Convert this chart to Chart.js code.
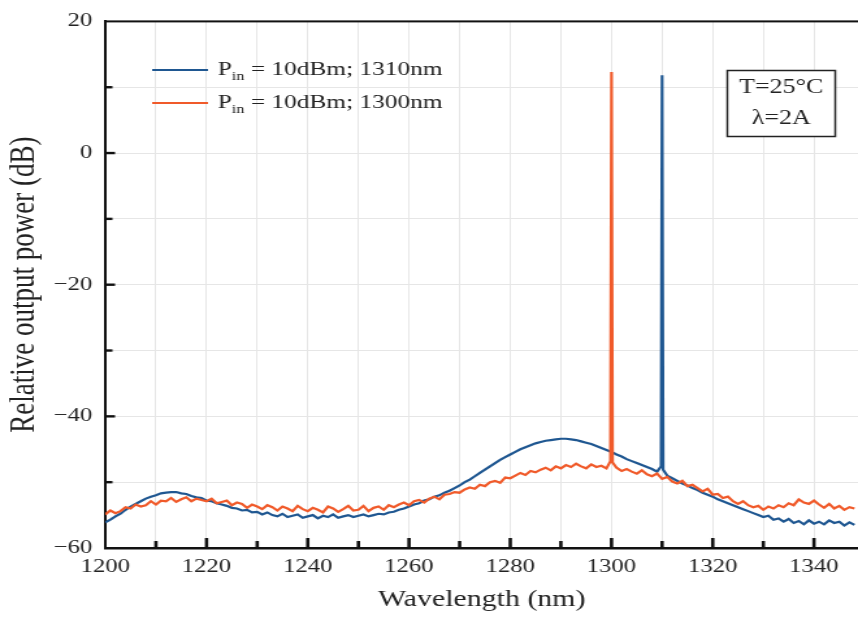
<!DOCTYPE html>
<html>
<head>
<meta charset="utf-8">
<title>Relative output power spectrum</title>
<script src="https://cdn.jsdelivr.net/npm/chart.js@4.4.0/dist/chart.umd.min.js"></script>
<style>
  html, body { margin: 0; padding: 0; background: #fff; overflow: hidden; }
  /* the source figure is stretched sideways by about 1.3x */
  #wrap { width: 660px; height: 619px; transform: scaleX(1.3); transform-origin: 0 0; }
</style>
</head>
<body>
<div id="wrap"><canvas id="spectrumChart" width="660" height="619"></canvas></div>
<script>
// wavelength grid (nm) at 1 nm steps
const wavelengths = [
  1200,1201,1202,1203,1204,1205,1206,1207,1208,1209,
  1210,1211,1212,1213,1214,1215,1216,1217,1218,1219,
  1220,1221,1222,1223,1224,1225,1226,1227,1228,1229,
  1230,1231,1232,1233,1234,1235,1236,1237,1238,1239,
  1240,1241,1242,1243,1244,1245,1246,1247,1248,1249,
  1250,1251,1252,1253,1254,1255,1256,1257,1258,1259,
  1260,1261,1262,1263,1264,1265,1266,1267,1268,1269,
  1270,1271,1272,1273,1274,1275,1276,1277,1278,1279,
  1280,1281,1282,1283,1284,1285,1286,1287,1288,1289,
  1290,1291,1292,1293,1294,1295,1296,1297,1298,1299,
  1300,1301,1302,1303,1304,1305,1306,1307,1308,1309,
  1310,1311,1312,1313,1314,1315,1316,1317,1318,1319,
  1320,1321,1322,1323,1324,1325,1326,1327,1328,1329,
  1330,1331,1332,1333,1334,1335,1336,1337,1338,1339,
  1340,1341,1342,1343,1344,1345,1346,1347,1348
];

// Pin = 10dBm, 1310 nm signal (dB)
const power1310 = [
  -56.1,-55.7,-55.2,-54.8,-54.2,-53.7,-53.3,-52.9,-52.5,-52.2,
  -52.0,-51.7,-51.6,-51.5,-51.5,-51.7,-51.8,-52.1,-52.3,-52.4,
  -52.8,-52.9,-53.2,-53.4,-53.6,-53.9,-54.0,-54.3,-54.2,-54.6,
  -54.5,-54.9,-54.6,-55.0,-55.2,-54.8,-55.3,-55.1,-54.9,-55.4,
  -55.2,-55.0,-55.5,-55.1,-55.3,-54.9,-55.4,-55.2,-55.0,-55.3,
  -55.1,-54.9,-55.2,-55.0,-54.8,-54.9,-54.6,-54.5,-54.2,-54.0,
  -53.7,-53.4,-53.2,-52.8,-52.6,-52.2,-52.0,-51.6,-51.3,-50.9,
  -50.5,-50.0,-49.6,-49.1,-48.6,-48.1,-47.6,-47.1,-46.6,-46.2,
  -45.8,-45.4,-45.0,-44.7,-44.4,-44.1,-43.9,-43.7,-43.6,-43.5,
  -43.4,-43.4,-43.5,-43.6,-43.8,-44.0,-44.2,-44.5,-44.8,-45.1,
  -45.4,-45.8,-46.1,-46.5,-46.8,-47.1,-47.4,-47.7,-48.0,-48.4,
   11.8,-49.0,-49.4,-49.8,-50.2,-50.5,-50.9,-51.2,-51.6,-51.9,
  -52.2,-52.6,-52.9,-53.2,-53.5,-53.8,-54.1,-54.4,-54.7,-55.0,
  -55.3,-55.1,-55.7,-55.5,-56.0,-55.6,-56.2,-55.9,-56.4,-55.8,
  -56.3,-56.0,-56.4,-55.8,-56.2,-56.0,-56.6,-56.1,-56.5
];

// Pin = 10dBm, 1300 nm signal (dB)
const power1300 = [
  -54.9,-54.3,-54.7,-54.4,-53.8,-54.0,-53.4,-53.7,-53.5,-52.9,
  -53.4,-52.8,-52.9,-52.4,-53.0,-52.6,-52.3,-52.9,-52.5,-52.7,
  -52.9,-52.5,-53.2,-53.0,-52.8,-53.5,-53.1,-53.3,-53.9,-53.4,
  -53.7,-54.1,-53.5,-53.8,-54.3,-53.7,-54.0,-54.4,-53.6,-54.1,
  -54.4,-53.9,-54.2,-54.6,-53.7,-54.0,-54.5,-54.1,-53.6,-54.3,
  -54.2,-53.6,-54.4,-53.9,-53.7,-54.2,-53.5,-53.8,-53.4,-53.1,
  -53.5,-52.9,-52.7,-53.1,-52.5,-52.2,-52.6,-51.9,-51.8,-51.5,
  -51.6,-51.1,-50.8,-51.0,-50.4,-50.6,-50.0,-49.8,-50.1,-49.3,
  -49.4,-49.0,-48.6,-48.9,-48.3,-48.5,-48.1,-47.8,-48.2,-47.6,
  -47.9,-47.4,-47.7,-47.2,-47.6,-47.9,-47.3,-47.7,-47.5,-47.9,
   12.3,-47.8,-48.3,-48.0,-48.4,-48.7,-48.2,-48.8,-49.1,-48.7,
  -49.5,-49.2,-49.9,-50.2,-49.8,-50.6,-50.4,-50.9,-51.4,-51.0,
  -51.9,-51.8,-52.4,-52.2,-52.9,-53.3,-52.9,-53.5,-53.8,-53.6,
  -54.2,-53.7,-54.0,-53.5,-53.8,-53.2,-53.5,-52.6,-53.1,-53.3,
  -52.8,-53.4,-53.9,-53.3,-54.0,-53.6,-54.2,-53.8,-54.0
];

// extra samples on the flanks of the two laser lines
const flankWl1310 = [1309.8, 1310.2];
const flankDb1310 = [-47.6, -48.1];
const flankWl1300 = [1299.8, 1300.2];
const flankDb1300 = [-46.8, -47.0];

// legend text: [main, subscript, rest]
const legendParts = [
  ["P", "in", " = 10dBm; 1310nm"],
  ["P", "in", " = 10dBm; 1300nm"]
];
const seriesColors = ["#1f5791", "#f05a2a"];
const noteLines = ["T=25°C", "λ=2A"];

// tick positions: every 10, labelled every 20
const xTickValues = [1200, 1210, 1220, 1230, 1240, 1250, 1260, 1270, 1280, 1290, 1300, 1310, 1320, 1330, 1340];
const xLabelled = [1200, 1220, 1240, 1260, 1280, 1300, 1320, 1340];
const yTickValues = [20, 10, 0, -10, -20, -30, -40, -50, -60];
const yLabelled = [20, 0, -20, -40, -60];

const serif = "'Liberation Serif', 'Times New Roman', serif";

function buildPoints(wl, db, extraWl, extraDb) {
  const pts = wl.map((w, i) => ({ x: w, y: db[i] }));
  extraWl.forEach((w, i) => pts.push({ x: w, y: extraDb[i] }));
  return pts.sort((a, b) => a.x - b.x);
}

// top frame line and inward tick marks
const frameTicks = {
  id: "frameTicks",
  afterDraw(chart) {
    const c = chart.ctx;
    const area = chart.chartArea;
    const xs = chart.scales.x, ys = chart.scales.y;
    c.save();
    c.fillStyle = "#111";
    c.fillRect(area.left, area.top - 1, area.right - area.left, 2);
    xTickValues.forEach((v) => {
      if (v === 1200) return;
      const px = xs.getPixelForValue(v);
      const len = xLabelled.includes(v) ? 10 : 7;
      c.fillRect(px - 1.3, area.bottom - len, 2.6, len);
    });
    yTickValues.forEach((v) => {
      if (v === 20 || v === -60) return;
      const py = ys.getPixelForValue(v);
      const len = yLabelled.includes(v) ? 7.5 : 5.5;
      c.fillRect(area.left, py - 1.2, len, 2.4);
    });
    c.restore();
  }
};

// legend with subscripts and the T / lambda note box
const notes = {
  id: "notes",
  afterDraw(chart) {
    const c = chart.ctx;
    c.save();
    const rows = [70, 103];
    legendParts.forEach((p, i) => {
      const y = rows[i];
      c.strokeStyle = seriesColors[i];
      c.lineWidth = 2;
      c.beginPath();
      c.moveTo(117, y);
      c.lineTo(160, y);
      c.stroke();
      c.fillStyle = "#222";
      c.textBaseline = "middle";
      c.textAlign = "left";
      let x = 167.5;
      c.font = "19.5px " + serif;
      c.fillText(p[0], x, y);
      x += c.measureText(p[0]).width;
      c.font = "12.5px " + serif;
      c.fillText(p[1], x, y + 7);
      x += c.measureText(p[1]).width;
      c.font = "19.5px " + serif;
      c.fillText(p[2], x, y);
    });

    c.strokeStyle = "#222";
    c.lineWidth = 1.5;
    c.fillStyle = "#fff";
    c.fillRect(559, 70, 83, 66);
    c.strokeRect(559.5, 70.5, 83, 66);
    c.fillStyle = "#222";
    c.font = "20px " + serif;
    c.textAlign = "center";
    c.textBaseline = "middle";
    c.fillText(noteLines[0], 601, 88);
    c.fillText(noteLines[1], 601, 119);
    c.restore();
  }
};

Chart.defaults.font.family = serif;
Chart.defaults.color = "#222";

const ctx = document.getElementById("spectrumChart").getContext("2d");
const spectrumChart = new Chart(ctx, {
  type: "line",
  data: {
    datasets: [
      {
        label: "Pin = 10dBm; 1310nm",
        data: buildPoints(wavelengths, power1310, flankWl1310, flankDb1310),
        borderColor: seriesColors[0],
        borderWidth: 2.2,
        pointRadius: 0,
        fill: false,
        order: 1
      },
      {
        label: "Pin = 10dBm; 1300nm",
        data: buildPoints(wavelengths, power1300, flankWl1300, flankDb1300),
        borderColor: seriesColors[1],
        borderWidth: 2.2,
        pointRadius: 0,
        fill: false,
        order: 0
      }
    ]
  },
  options: {
    responsive: false,
    animation: false,
    layout: { padding: { top: 17, right: 0, left: 0, bottom: 0 } },
    plugins: {
      legend: { display: false },
      tooltip: { enabled: false }
    },
    scales: {
      x: {
        type: "linear",
        min: 1200,
        max: 1348.7,
        afterBuildTicks: (s) => { s.ticks = xTickValues.map(v => ({ value: v })); },
        afterFit: (s) => { s.height = 71; },
        grid: { color: "#e6e6e6", lineWidth: 1, drawTicks: false },
        border: { color: "#111", width: 2.6 },
        ticks: {
          padding: 8,
          maxRotation: 0,
          autoSkip: false,
          font: { size: 19 },
          callback: (v) => xLabelled.includes(v) ? String(v) : ""
        },
        title: {
          display: true,
          text: "Wavelength (nm)",
          font: { size: 23 },
          padding: { top: 0, bottom: 5 }
        }
      },
      y: {
        min: -60,
        max: 20,
        afterBuildTicks: (s) => { s.ticks = yTickValues.map(v => ({ value: v })); },
        afterFit: (s) => { s.width = 81; },
        grid: { color: "#e6e6e6", lineWidth: 1, drawTicks: false },
        border: { color: "#111", width: 2 },
        ticks: {
          padding: 10,
          autoSkip: false,
          font: { size: 19 },
          callback: (v) => yLabelled.includes(v) ? (v < 0 ? "\u2212" + Math.abs(v) : String(v)) : ""
        },
        title: {
          display: true,
          text: "Relative output power (dB)",
          font: { size: 27 },
          padding: { top: 3, bottom: 0 }
        }
      }
    }
  },
  plugins: [frameTicks, notes]
});
</script>
</body>
</html>
